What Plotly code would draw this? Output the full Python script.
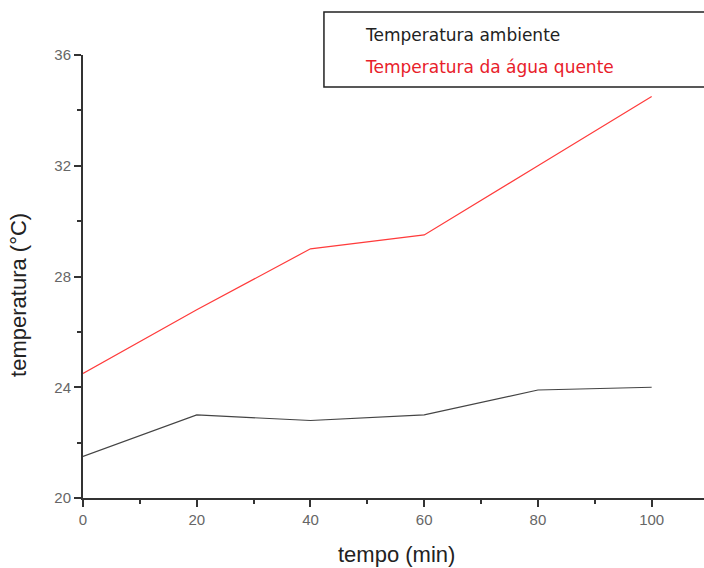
import plotly.graph_objects as go

tempo = [0, 20, 40, 60, 80, 100]
ambiente = [21.5, 23.0, 22.8, 23.0, 23.9, 24.0]
agua_quente = [24.5, 26.8, 29.0, 29.5, 32.0, 34.5]
names = ["Temperatura ambiente", "Temperatura da água quente"]
colors = ["#444444", "#ff3b3b"]
x_title = "tempo (min)"
y_title = "temperatura (°C)"

fig = go.Figure()
for y, n, c in zip([ambiente, agua_quente], names, colors):
    fig.add_trace(go.Scatter(x=tempo, y=y, mode="lines", name=n,
                             line=dict(color=c, width=1.2), showlegend=False))

# legend box drawn as shape + text
fig.add_shape(type="rect", xref="paper", yref="paper", x0=0.388, x1=1.02, y0=0.928, y1=1.097,
              line=dict(color="#222222", width=1.5), fillcolor="white", layer="above")
label_colors = ["#222222", "#e8202a"]
for i, (n, c) in enumerate(zip(names, label_colors)):
    fig.add_annotation(text=n, xref="paper", yref="paper", x=0.451, y=1.045 - i * 0.072,
                       xanchor="left", yanchor="middle", showarrow=False,
                       font=dict(family="DejaVu Sans", size=17, color=c))

tick_font = dict(family="Liberation Sans, Arial", size=15, color="#666666")
title_font = dict(family="Liberation Sans, Arial", size=22, color="#222222")

# axis titles as annotations for precise placement
fig.add_annotation(text=x_title, xref="paper", yref="paper", x=0.505, y=-0.128,
                   xanchor="center", yanchor="middle", showarrow=False, font=title_font)
fig.add_annotation(text=y_title, xref="paper", yref="paper", x=-0.105, y=0.458,
                   xanchor="center", yanchor="middle", showarrow=False, textangle=-90,
                   font=title_font)

common = dict(showline=True, linecolor="#333333", linewidth=2, ticks="outside",
              ticklen=7, tickwidth=2, tickcolor="#333333", showgrid=False, zeroline=False,
              tickfont=tick_font)

fig.update_layout(
    width=704, height=568,
    margin=dict(l=83, r=0, t=55, b=70),
    plot_bgcolor="white", paper_bgcolor="white",
    xaxis=dict(range=[0, 109.2], tickvals=[0, 20, 40, 60, 80, 100],
               minor=dict(ticks="outside", ticklen=4, tickwidth=2, tickcolor="#333333",
                          tickvals=[10, 30, 50, 70, 90]),
               **common),
    yaxis=dict(range=[20, 36], tickvals=[20, 24, 28, 32, 36],
               minor=dict(ticks="outside", ticklen=4, tickwidth=2, tickcolor="#333333",
                          tickvals=[22, 26, 30, 34]),
               **common),
)
fig.write_html("out.html")
